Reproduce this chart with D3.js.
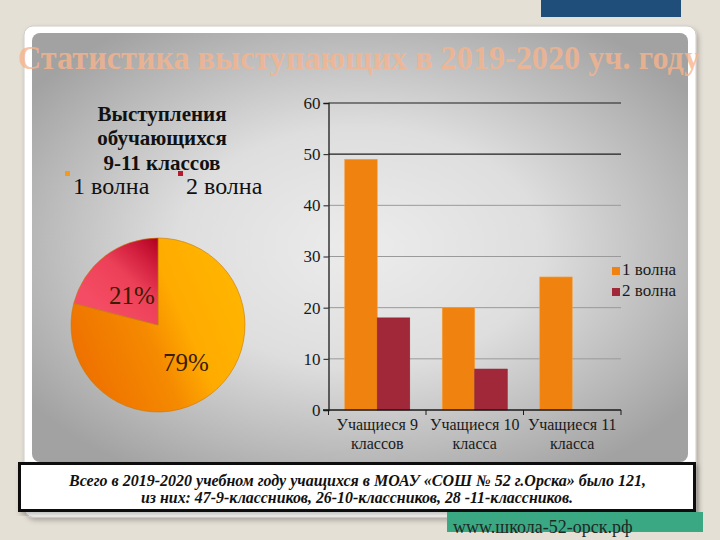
<!DOCTYPE html>
<html><head><meta charset="utf-8">
<script src="https://cdn.jsdelivr.net/npm/d3@7"></script>
<style>html,body{margin:0;padding:0;background:#e5e0d6;}svg{display:block;}</style>
</head><body>
<script>
// ---- data ----
const titleText = "Статистика выступающих в 2019-2020 уч. году";
const pieTitleLines = ["Выступления", "обучающихся", "9-11 классов"];
const pieLabels = ["1 волна", "2 волна"];
const pieValues = [79, 21];
const categories = ["Учащиеся 9\nклассов", "Учащиеся 10\nкласса", "Учащиеся 11\nкласса"];
const seriesNames = ["1 волна", "2 волна"];
const wave1 = [49, 20, 26];
const wave2 = [18, 8, 0];
const yTicks = [0, 10, 20, 30, 40, 50, 60];
const footerLines = [
  "Всего в 2019-2020 учебном году учащихся в МОАУ «СОШ № 52 г.Орска» было 121,",
  "из них: 47-9-классников, 26-10-классников, 28 -11-классников."
];
const siteText = "www.школа-52-орск.рф";

const W = 720, H = 540;
const serif = "'Liberation Serif','Times New Roman',serif";
const svg = d3.select("body").append("svg").attr("width", W).attr("height", H);
const defs = svg.append("defs");

// gradients
const bg = defs.append("radialGradient").attr("id", "bgGrad").attr("cx", "0.5").attr("cy", "0.5").attr("r", "0.62");
bg.append("stop").attr("offset", "0").attr("stop-color", "#ececec");
bg.append("stop").attr("offset", "0.45").attr("stop-color", "#dedede");
bg.append("stop").attr("offset", "1").attr("stop-color", "#a2a2a2");

// pie gradients in the pie group's local coordinates (origin = pie centre)
const og = defs.append("linearGradient").attr("id", "orGrad").attr("gradientUnits", "userSpaceOnUse")
  .attr("x1", -80).attr("y1", 45).attr("x2", 78).attr("y2", -25);
og.append("stop").attr("offset", "0").attr("stop-color", "#ee7000");
og.append("stop").attr("offset", "0.45").attr("stop-color", "#f58a00");
og.append("stop").attr("offset", "0.68").attr("stop-color", "#ffab00");
og.append("stop").attr("offset", "1").attr("stop-color", "#ffb400");

const rg = defs.append("linearGradient").attr("id", "redGrad").attr("gradientUnits", "userSpaceOnUse")
  .attr("x1", -60).attr("y1", -20).attr("x2", 0).attr("y2", -85);
rg.append("stop").attr("offset", "0").attr("stop-color", "#f44c64");
rg.append("stop").attr("offset", "0.45").attr("stop-color", "#ec4058");
rg.append("stop").attr("offset", "0.8").attr("stop-color", "#cc1838");
rg.append("stop").attr("offset", "1").attr("stop-color", "#b00420");

const sh = defs.append("filter").attr("id", "shadow").attr("x", "-5%").attr("y", "-5%").attr("width", "110%").attr("height", "115%");
sh.append("feDropShadow").attr("dx", 2).attr("dy", 3).attr("stdDeviation", 2.5).attr("flood-color", "#000").attr("flood-opacity", 0.25);

// background pieces
svg.append("rect").attr("x", 541).attr("y", 0).attr("width", 140).attr("height", 17).attr("fill", "#1f4e7a");
svg.append("rect").attr("x", 24).attr("y", 26).attr("width", 672).attr("height", 491).attr("rx", 9)
  .attr("fill", "#ffffff").attr("stroke", "#d0ccc4").attr("stroke-width", 1).attr("filter", "url(#shadow)");
svg.append("rect").attr("x", 32).attr("y", 33).attr("width", 656).attr("height", 429).attr("rx", 8).attr("fill", "url(#bgGrad)");

// title
svg.append("text").attr("x", 18).attr("y", 69).attr("textLength", 682).attr("lengthAdjust", "spacingAndGlyphs")
  .attr("font-family", serif).attr("font-weight", "bold").attr("font-size", 33)
  .attr("fill", "#f8b48c").attr("fill-opacity", 0.78).text(titleText);

// ---- pie ----
const pieG = svg.append("g");
pieTitleLines.forEach((t, i) => {
  pieG.append("text").attr("x", 162).attr("y", [121, 145, 170][i]).attr("text-anchor", "middle")
    .attr("font-family", serif).attr("font-weight", "bold").attr("font-size", 21).attr("fill", "#111").text(t);
});
const pieColors = ["#f39a1a", "#b51a30"];
const legX = [65, 178];
pieLabels.forEach((l, i) => {
  pieG.append("rect").attr("x", legX[i]).attr("y", 171).attr("width", 5).attr("height", 5).attr("fill", pieColors[i]);
  pieG.append("text").attr("x", legX[i] + 8).attr("y", 194).attr("font-family", serif).attr("font-size", 24)
    .attr("fill", "#111").text(l);
});
const cx = 158, cy = 325, R = 87;
const pie = d3.pie().sort(null).value(d => d)(pieValues);
const arc = d3.arc().innerRadius(0).outerRadius(R);
const fills = ["url(#orGrad)", "url(#redGrad)"];
const sg = pieG.append("g").attr("transform", `translate(${cx},${cy})`);
sg.selectAll("path").data(pie).join("path").attr("d", arc).attr("fill", (d, i) => fills[i])
  .attr("stroke", "#c8780a").attr("stroke-width", 0.6);
const total = d3.sum(pieValues);
const labelPos = [[28, 46], [-26, -21]];
pie.forEach((d, i) => {
  sg.append("text").attr("x", labelPos[i][0]).attr("y", labelPos[i][1]).attr("text-anchor", "middle")
    .attr("font-family", serif).attr("font-size", 25).attr("fill", "#3a1c00")
    .text(Math.round(d.value / total * 100) + "%");
});

// ---- bar chart ----
const x0 = d3.scaleBand().domain(categories).range([328.5, 621]).paddingInner(1 / 3).paddingOuter(1 / 6);
const x1 = d3.scaleBand().domain(seriesNames).range([0, x0.bandwidth()]);
const y = d3.scaleLinear().domain([0, 60]).range([410, 103]);
const bc = svg.append("g");
yTicks.filter(t => t > 0).forEach(t => {
  bc.append("line").attr("x1", 328.5).attr("x2", 621).attr("y1", y(t)).attr("y2", y(t))
    .attr("stroke", t >= 50 ? "#1e1e1e" : "#9a9a9a").attr("stroke-width", t >= 50 ? 1.2 : 1);
});
const barColors = ["#f0820f", "#a02838"];
const seriesVals = [wave1, wave2];
categories.forEach((c, ci) => {
  seriesNames.forEach((s, si) => {
    const v = seriesVals[si][ci];
    if (v > 0) bc.append("rect").attr("x", x0(c) + x1(s)).attr("y", y(v)).attr("width", x1.bandwidth())
      .attr("height", y(0) - y(v)).attr("fill", barColors[si]).attr("stroke", si === 0 ? "#f5a040" : "#8c2030").attr("stroke-width", 0.6);
  });
});
const yAxis = bc.append("g").attr("transform", "translate(328.5,0)")
  .call(d3.axisLeft(y).tickValues(yTicks).tickSize(5).tickPadding(3));
yAxis.select(".domain").attr("stroke", "#1a1a1a").attr("stroke-width", 1.3);
yAxis.selectAll(".tick line").attr("stroke", "#1a1a1a");
yAxis.selectAll("text").attr("font-family", serif).attr("font-size", 17).attr("fill", "#1a1a1a");
const xAxisG = bc.append("g").attr("transform", `translate(0,${y(0)})`);
xAxisG.append("line").attr("x1", 323).attr("x2", 621).attr("stroke", "#1a1a1a").attr("stroke-width", 1.3);
const bounds = [328.5].concat(categories.map(c => x0(c) - x0.step() * x0.paddingInner() / 2 + x0.step()));
bounds.forEach(b => xAxisG.append("line").attr("x1", b).attr("x2", b).attr("y1", 0).attr("y2", 5).attr("stroke", "#1a1a1a"));
categories.forEach(c => {
  const lines = c.split("\n");
  const t = xAxisG.append("text").attr("text-anchor", "middle").attr("font-family", serif).attr("font-size", 16).attr("fill", "#1a1a1a");
  lines.forEach((l, i) => t.append("tspan").attr("x", x0(c) + x0.bandwidth() / 2).attr("y", 20 + i * 19).text(l));
});
seriesNames.forEach((s, i) => {
  bc.append("rect").attr("x", 612).attr("y", 267 + i * 21).attr("width", 8).attr("height", 8).attr("fill", barColors[i]);
  bc.append("text").attr("x", 622).attr("y", 275 + i * 21).attr("font-family", serif).attr("font-size", 17)
    .attr("fill", "#1a1a1a").text(s);
});

// ---- footer ----
svg.append("rect").attr("x", 19.5).attr("y", 463.5).attr("width", 675).attr("height", 47)
  .attr("fill", "#fff").attr("stroke", "#111").attr("stroke-width", 3).attr("filter", "url(#shadow)");
const footerX = [69, 141], footerLen = [577, 432];
footerLines.forEach((l, i) => {
  svg.append("text").attr("x", footerX[i]).attr("y", 486 + i * 17)
    .attr("textLength", footerLen[i]).attr("lengthAdjust", "spacingAndGlyphs")
    .attr("font-family", serif).attr("font-weight", "bold").attr("font-style", "italic").attr("font-size", 16)
    .attr("fill", "#111").text(l);
});
svg.append("rect").attr("x", 447).attr("y", 512).attr("width", 256).attr("height", 20).attr("fill", "#3aa882");
svg.append("text").attr("x", 453).attr("y", 533).attr("font-family", serif).attr("font-size", 18)
  .attr("fill", "#1e2a24").text(siteText);
</script>
</body></html>
